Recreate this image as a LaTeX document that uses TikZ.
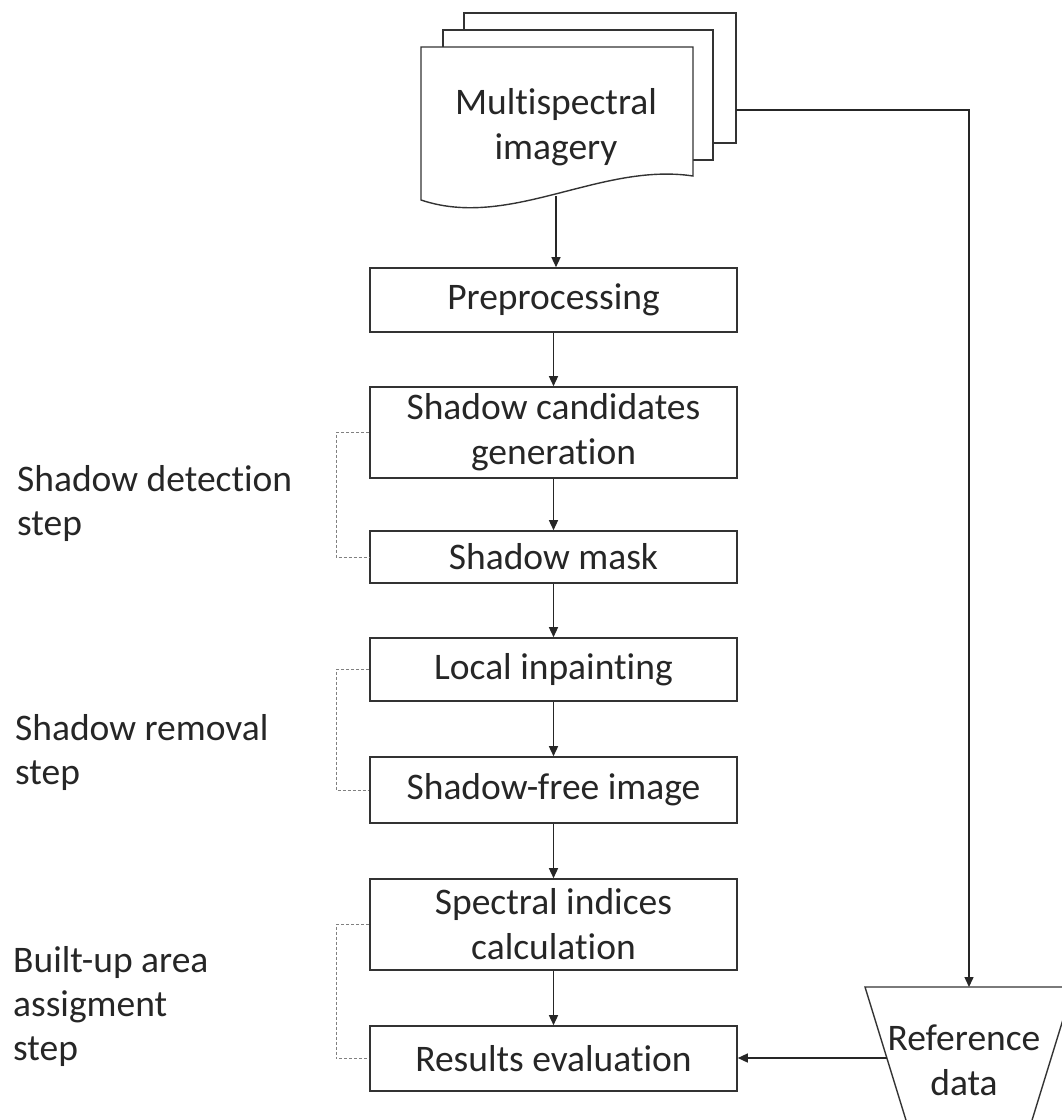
\documentclass[tikz,border=0pt]{standalone}
\usepackage{fontspec}
\setmainfont{Carlito}[Ligatures={NoCommon,NoRare}]
\usetikzlibrary{arrows.meta}
\begin{document}
\begin{tikzpicture}[x=1pt,y=-1pt,
  txt/.style={font=\fontsize{37.5}{45}\selectfont, text=black!85, align=center},
  stepbox/.style={draw=black!80, line width=1.6pt, minimum width=367pt, inner sep=0pt, txt},
  shapeline/.style={draw=black!80, line width=1.4pt, fill=white},
  conn/.style={draw=black!85, line width=1.4pt, -{Triangle[length=10pt,width=9pt]}},
  bracket/.style={draw=gray, line width=1pt, dash pattern=on 3pt off 2pt},
  lab/.style={font=\fontsize{37.5}{44}\selectfont, text=black!85, align=left, anchor=base west, inner sep=0pt}]
\useasboundingbox (0,0) rectangle (1062,1120);
\clip (0,0) rectangle (1062,1120);

% stacked document
\path[shapeline] (464,13) rectangle (736,143);
\path[shapeline] (443,30) rectangle (713,160);
\path[shapeline] (421,47) -- (693,47) -- (693,176) .. controls (600,162) and (510,230) .. (421,200) -- cycle;
\node[txt] (ms) at (556,127) {Multispectral\\imagery};
\coordinate (msB) at (556,196);
\coordinate (msR) at (736,110);

% process boxes
\node[stepbox, minimum height=64pt] (pre) at (553.5,300) {Preprocessing};
\node[stepbox, minimum height=91pt] (cand) at (553.5,432.5) {Shadow candidates\\generation};
\node[stepbox, minimum height=52pt] (mask) at (553.5,557) {Shadow mask};
\node[stepbox, minimum height=63pt] (inp) at (553.5,669.5) {Local inpainting};
\node[stepbox, minimum height=66pt] (free) at (553.5,790) {Shadow-free image};
\node[stepbox, minimum height=91pt] (spec) at (553.5,924.5) {Spectral indices\\calculation};
\node[stepbox, minimum height=65pt] (res) at (553.5,1058.5) {Results evaluation};

% reference data (trapezoid)
\path[shapeline] (865,987) -- (1073,987) -- (1029,1130) -- (909,1130) -- cycle;
\node[txt] (ref) at (964,1060) {Reference\\data};
\coordinate (refT) at (969,987);
\coordinate (refL) at (887,1058);

% connectors
\draw[conn] (msB) -- (msB |- pre.north);
\draw[conn] (pre) -- (cand);
\draw[conn] (cand) -- (mask);
\draw[conn] (mask) -- (inp);
\draw[conn] (inp) -- (free);
\draw[conn] (free) -- (spec);
\draw[conn] (spec) -- (res);
\draw[conn] (msR) -| (refT);
\draw[conn] (refL) -- (refL -| res.east);

% brackets
\draw[bracket] (cand.west) -- ++(-33,0) |- (mask.west);
\draw[bracket] (inp.west) -- ++(-33,0) |- (free.west);
\draw[bracket] (spec.west) -- ++(-33,0) |- (res.west);

% step labels (anchored at the baseline of the last line)
\node[lab] (l1) at (17,535) {Shadow detection\\step};
\node[lab] (l2) at (15,784) {Shadow removal\\step};
\node[lab] (l3) at (13,1060) {Built-up area\\assigment\\step};
\end{tikzpicture}
\end{document}
